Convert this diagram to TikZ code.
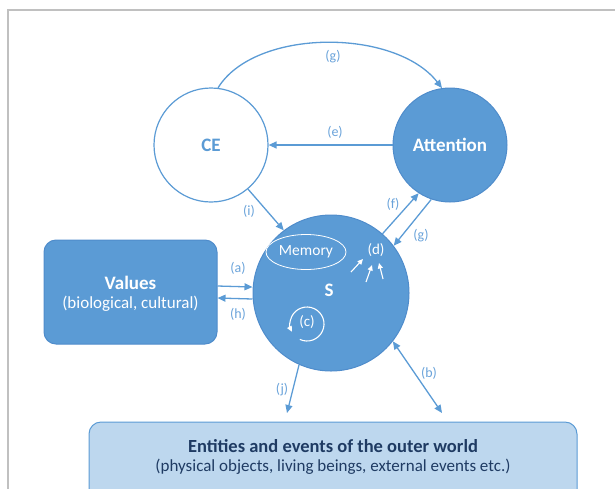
\documentclass[tikz,border=0pt]{standalone}
\usepackage{fontspec}
\setmainfont{Carlito}
\usetikzlibrary{arrows.meta,shapes.geometric}
\definecolor{bfill}{HTML}{5B9BD5}
\definecolor{bdraw}{HTML}{4F8CCB}
\definecolor{lab}{HTML}{6AA3DA}
\definecolor{lfill}{HTML}{BDD7EE}
\definecolor{dtext}{HTML}{1F3B63}
\definecolor{frame}{HTML}{C0C0C0}
\tikzset{
  blob/.style={circle, fill=bfill, draw=bdraw, line width=1pt, text=white, font=\fontsize{19}{22}\selectfont\bfseries, inner sep=0pt},
  conn/.style={draw=bfill, line width=1.3pt, -{Triangle[length=8pt,width=7pt]}},
  lbl/.style={text=lab, font=\fontsize{14}{16}\selectfont, inner sep=1pt},
  wtxt/.style={text=white, inner sep=1pt},
  warrow/.style={draw=white, line width=1.1pt, -{Triangle[length=5.5pt,width=5pt]}}
}
\begin{document}
\begin{tikzpicture}[x=1pt,y=-1pt]
\useasboundingbox (0,0) rectangle (615,488);
\draw[frame, line width=1.5pt] (8,490) -- (8,10) -- (616,10);
% bottom box
\draw[fill=lfill, draw=bfill, line width=1pt, rounded corners=12pt] (89,422) rectangle (577,510);
\node[text=dtext, font=\fontsize{18.5}{21}\selectfont\bfseries] (world) at (333,446) {Entities and events of the outer world};
\node[text=dtext, font=\fontsize{17}{20}\selectfont] (worldsub) at (333,467) {(physical objects, living beings, external events etc.)};
% values box
\node[fill=bfill, draw=bdraw, line width=1pt, rounded corners=12pt, minimum width=173pt, minimum height=104pt, inner sep=0pt] (Values) at (130.5,292) {};
\node[wtxt, font=\fontsize{19}{22}\selectfont\bfseries] (valt) at (130.5,283) {Values};
\node[wtxt, font=\fontsize{17}{20}\selectfont] (vals) at (130.5,304) {(biological, cultural)};
% circles
\node[circle, fill=white, draw=bfill, line width=1.2pt, minimum size=114pt, inner sep=0pt, text=bfill, font=\fontsize{19}{22}\selectfont\bfseries] (CE) at (211,145) {CE};
\node[blob, minimum size=114pt] (Att) at (450,145) {Attention};
\node[blob, minimum size=156pt] (S) at (331,293) {};
\node[wtxt, font=\fontsize{19}{22}\selectfont\bfseries] (Slab) at (329,290) {S};
% inside S
\node[ellipse, draw=white, line width=0.8pt, minimum width=80pt, minimum height=35pt, inner sep=0pt, text=white, font=\fontsize{15.5}{18}\selectfont] (Mem) at (306,252) {Memory};
\node[wtxt, font=\fontsize{15}{17}\selectfont] (d) at (376,250) {(d)};
\coordinate (d1s) at (351,272); \coordinate (d1e) at (363,259);
\coordinate (d2s) at (366,282); \coordinate (d2e) at (372,265);
\coordinate (d3s) at (383,279); \coordinate (d3e) at (379,263);
\draw[warrow] (d1s) -- (d1e);
\draw[warrow] (d2s) -- (d2e);
\draw[warrow] (d3s) -- (d3e);
\node[wtxt, font=\fontsize{15}{17}\selectfont] (c) at (307,322) {(c)};
\coordinate (cc) at (307,324);
\draw[draw=white, line width=1.1pt, -{Triangle[length=5.5pt,width=5pt]}] ([shift={(-245:17)}]cc) arc[start angle=-245, end angle=-567, radius=17];
% connectors
\draw[conn] (CE.83) .. controls (255,28) and (395,28) .. (Att.98);
\node[lbl] (lg1) at (333,57) {(g)};
\draw[conn] (Att.west) -- (CE.east);
\node[lbl] (le) at (335,132) {(e)};
\draw[conn] (CE.-50) -- (S.127);
\node[lbl] (li) at (249,211) {(i)};
\draw[conn] (S.49) -- (Att.237);
\node[lbl] (lf) at (393,204) {(f)};
\draw[conn] (Att.251) -- (S.37);
\node[lbl] (lg2) at (421,236) {(g)};
\draw[conn] ([yshift=6pt]Values.east) -- ([yshift=6pt]S.west);
\node[lbl] (la) at (238,268) {(a)};
\draw[conn] ([yshift=-6pt]S.west) -- ([yshift=-6pt]Values.east);
\node[lbl] (lh) at (238,314) {(h)};
\coordinate (jend) at (287,413);
\draw[conn] (S.246) -- (jend);
\node[lbl] (lj) at (282,390) {(j)};
\coordinate (bend) at (442,413);
\draw[conn, {Triangle[length=8pt,width=7pt]}-{Triangle[length=8pt,width=7pt]}] (S.-38) -- (bend);
\node[lbl] (lb) at (429,373) {(b)};
\end{tikzpicture}
\end{document}
